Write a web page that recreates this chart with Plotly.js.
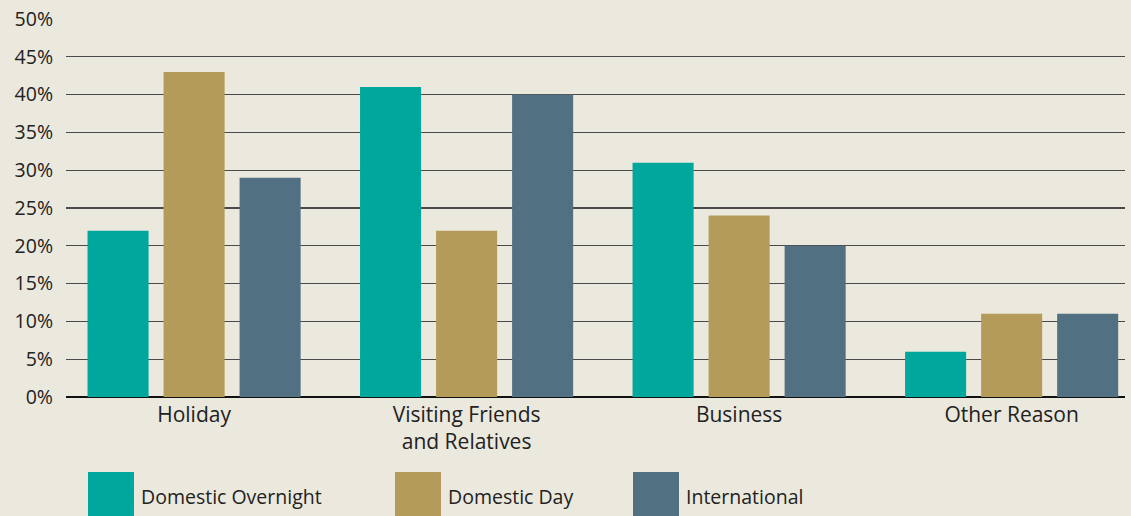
<!DOCTYPE html>
<html>
<head>
<meta charset="utf-8">
<script src="https://cdn.plot.ly/plotly-3.0.1.min.js"></script>
<style>
  html, body { margin: 0; padding: 0; background: #ebe8dd; }
  #chart { width: 1131px; height: 516px; }
</style>
</head>
<body>
<div id="chart"></div>
<script>
let categories = ['Holiday', 'Visiting Friends<br>and Relatives', 'Business', 'Other Reason'];
let seriesNames = ['Domestic Overnight', 'Domestic Day', 'International'];
let domesticOvernight = [22, 41, 31, 6];
let domesticDay = [43, 22, 24, 11];
let international = [29, 40, 20, 11];
let yTicks = [0, 5, 10, 15, 20, 25, 30, 35, 40, 45, 50];
let colors = ['#00a79d', '#b59b5a', '#517082'];

let W = 1131, H = 516;
let mL = 66, mR = 6, mT = 19, mB = 119;
let plotW = W - mL - mR, plotH = H - mT - mB;
let fontFam = '"Open Sans", sans-serif';

function px2x(px) { return (px - mL) / plotW; }
function py2y(py) { return (H - mB - py) / plotH; }

let values = [domesticOvernight, domesticDay, international];
let traces = [];
for (let i = 0; i < 3; i++) {
    traces.push({
        type: 'bar',
        name: seriesNames[i],
        x: [0, 1, 2, 3],
        y: values[i],
        marker: {color: colors[i]},
        hoverinfo: 'y+name'
    });
}

// legend drawn by hand so the swatches can be big
let legendX = [88, 395, 633];
let shapes = [];
let annotations = [];
for (let i = 0; i < 3; i++) {
    shapes.push({
        type: 'rect', xref: 'paper', yref: 'paper',
        x0: px2x(legendX[i]), x1: px2x(legendX[i] + 46),
        y0: py2y(472), y1: py2y(530),
        fillcolor: colors[i], line: {width: 0}
    });
    annotations.push({
        xref: 'paper', yref: 'paper',
        x: px2x(legendX[i] + 51), y: py2y(496),
        xanchor: 'left', yanchor: 'middle',
        text: seriesNames[i], showarrow: false,
        font: {family: fontFam, size: 19.5, color: '#222'}
    });
}

let layout = {
    width: W, height: H,
    paper_bgcolor: '#ebe8dd',
    plot_bgcolor: '#ebe8dd',
    margin: {l: mL, r: mR, t: mT, b: mB, pad: 0},
    barmode: 'group',
    bargap: 0.163,
    bargroupgap: 0.197,
    showlegend: false,
    font: {family: fontFam, color: '#222'},
    xaxis: {
        range: [-0.47, 3.416],
        tickvals: [0, 1, 2, 3],
        ticktext: categories,
        tickfont: {size: 21, color: '#222'},
        showgrid: false,
        zeroline: false,
        showline: false,
        ticks: '',
        ticklabelstandoff: 3,
        fixedrange: true
    },
    yaxis: {
        range: [0, 50],
        tickvals: yTicks,
        ticktext: yTicks.map(v => v + '%'),
        tickfont: {size: 19.5, color: '#222'},
        showgrid: true,
        gridcolor: '#4a4a4a',
        gridwidth: 1.3,
        zeroline: true,
        zerolinecolor: '#111',
        zerolinewidth: 1.6,
        ticks: '',
        ticklabelstandoff: 12,
        fixedrange: true
    },
    shapes: shapes,
    annotations: annotations
};

Plotly.newPlot('chart', traces, layout, {displayModeBar: false, staticPlot: true});
</script>
</body>
</html>
